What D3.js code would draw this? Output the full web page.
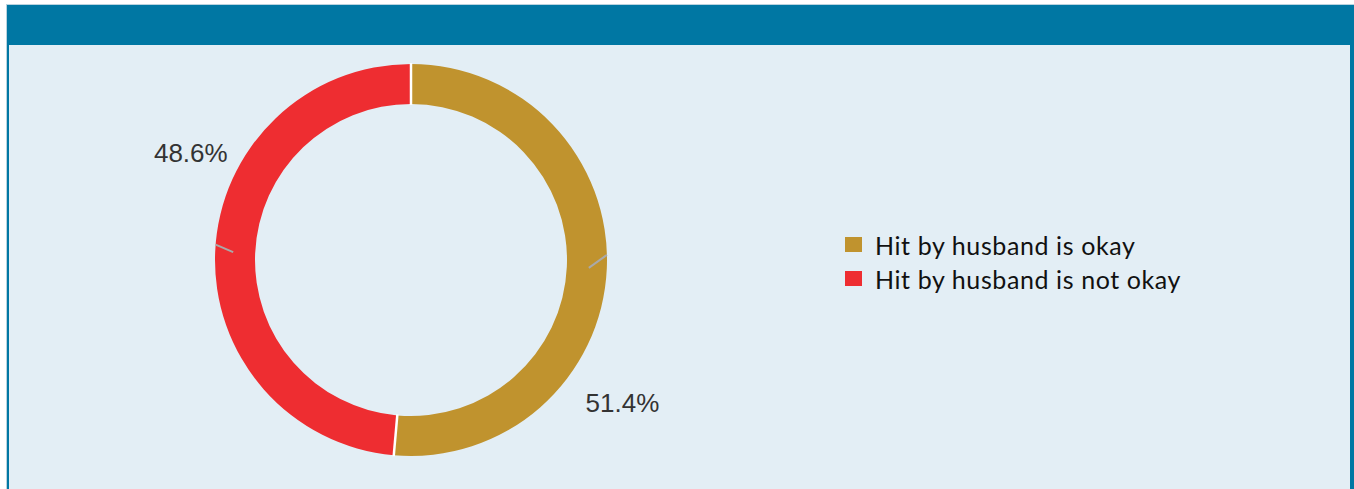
<!DOCTYPE html>
<html>
<head>
<meta charset="utf-8">
<script src="https://cdn.jsdelivr.net/npm/d3@7"></script>
<style>
  html, body { margin: 0; padding: 0; background: #ffffff; }
  svg { display: block; }
</style>
</head>
<body>
<div id="chart"></div>
<script>
// data
var categories = ["Hit by husband is okay", "Hit by husband is not okay"];
var values = [51.4, 48.6];
var sliceColors = ["#c0932e", "#ee2d31"];

var width = 1354, height = 489;
var cx = 411, cy = 260;
var outerR = 196, innerR = 156;

var svg = d3.select("#chart").append("svg")
  .attr("width", width)
  .attr("height", height);

// panel frame + header
svg.append("rect")
  .attr("x", 6).attr("y", 4)
  .attr("width", width - 6).attr("height", height)
  .attr("fill", "#b9d3df");
svg.append("rect")
  .attr("x", 7).attr("y", 5)
  .attr("width", width - 7).attr("height", height)
  .attr("fill", "#0077a3");
svg.append("rect")
  .attr("x", 9).attr("y", 45)
  .attr("width", width - 13).attr("height", height)
  .attr("fill", "#e3eef5");

// pie layout, starting at 12 o'clock and going clockwise
var pie = d3.pie().sort(null).value(function(d) { return d; });
var arcs = pie(values);

var arc = d3.arc().innerRadius(innerR).outerRadius(outerR);

var g = svg.append("g").attr("transform", "translate(" + cx + "," + cy + ")");

g.selectAll("path.slice")
  .data(arcs)
  .enter()
  .append("path")
  .attr("class", "slice")
  .attr("d", arc)
  .attr("fill", function(d, i) { return sliceColors[i]; });

function polar(angle, r) {
  return [Math.sin(angle) * r, -Math.cos(angle) * r];
}

// white separators between slices
g.selectAll("line.sep")
  .data(arcs)
  .enter()
  .append("line")
  .attr("class", "sep")
  .attr("x1", function(d) { return polar(d.startAngle, innerR - 1)[0]; })
  .attr("y1", function(d) { return polar(d.startAngle, innerR - 1)[1]; })
  .attr("x2", function(d) { return polar(d.startAngle, outerR + 1)[0]; })
  .attr("y2", function(d) { return polar(d.startAngle, outerR + 1)[1]; })
  .attr("stroke", "#ffffff")
  .attr("stroke-width", 2.5);

// short connector stubs at each slice
var stubOffset = [-4, 2]; // degrees, outer end vs slice middle
g.selectAll("line.stub")
  .data(arcs)
  .enter()
  .append("line")
  .attr("class", "stub")
  .each(function(d, i) {
    var mid = (d.startAngle + d.endAngle) / 2;
    var p1 = polar(mid, outerR - 18);
    var p2 = polar(mid + stubOffset[i] * Math.PI / 180, outerR);
    d3.select(this)
      .attr("x1", p1[0]).attr("y1", p1[1])
      .attr("x2", p2[0]).attr("y2", p2[1]);
  })
  .attr("stroke", "#a9a9a9")
  .attr("stroke-width", 2);

// percentage labels
var labelAngle = [124, 296]; // degrees from top, clockwise
var labelR = [255, 245];
g.selectAll("text.pct")
  .data(arcs)
  .enter()
  .append("text")
  .attr("class", "pct")
  .attr("x", function(d, i) { return polar(labelAngle[i] * Math.PI / 180, labelR[i])[0]; })
  .attr("y", function(d, i) { return polar(labelAngle[i] * Math.PI / 180, labelR[i])[1]; })
  .attr("dy", "0.35em")
  .attr("text-anchor", "middle")
  .attr("font-family", "Liberation Sans, Arial, sans-serif")
  .attr("font-size", "26px")
  .attr("fill", "#333333")
  .text(function(d) { return d.value.toFixed(1) + "%"; });

// legend
var legendX = 845, legendY = 237, legendStep = 34;
var legend = svg.selectAll("g.legend")
  .data(categories)
  .enter()
  .append("g")
  .attr("class", "legend")
  .attr("transform", function(d, i) {
    return "translate(" + legendX + "," + (legendY + i * legendStep) + ")";
  });
legend.append("rect")
  .attr("width", 17)
  .attr("height", 15)
  .attr("fill", function(d, i) { return sliceColors[i]; });
legend.append("text")
  .attr("x", 30)
  .attr("y", 18)
  .attr("font-family", "Lato, sans-serif")
  .attr("font-size", "25px")
  .attr("letter-spacing", "0.6px")
  .attr("fill", "#111111")
  .text(function(d) { return d; });
</script>
</body>
</html>
